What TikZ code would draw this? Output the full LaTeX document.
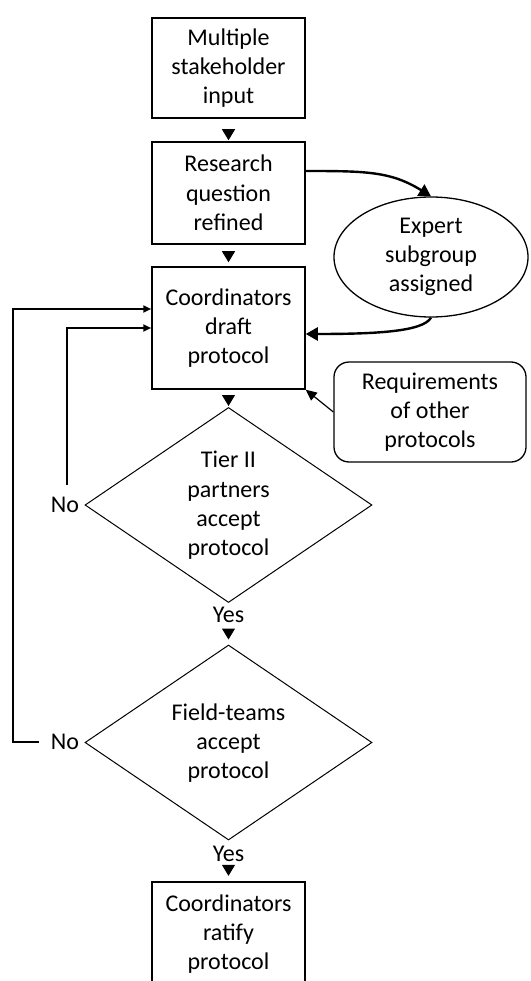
\documentclass[tikz,border=0pt]{standalone}
\usepackage{fontspec}
\setmainfont{Carlito}
\usetikzlibrary{shapes.geometric,arrows.meta}
\begin{document}
\begin{tikzpicture}[x=1pt,y=-1pt,
  every node/.style={font=\fontsize{24}{29.3}\selectfont, align=center, inner sep=0pt},
  boxthick/.style={draw, line width=2.3pt, minimum width=153pt},
  boxthin/.style={draw, line width=1.5pt, minimum width=153pt},
  dia/.style={draw, diamond, line width=1pt, minimum width=287pt, minimum height=195pt},
  vtip/.style={-{Triangle[width=13pt,length=11pt]}, line width=1pt},
  curv/.style={-{Triangle[width=13pt,length=12pt]}, line width=2.4pt},
  thinarr/.style={-{Triangle[width=10pt,length=11pt]}, line width=1.2pt},
  loopa/.style={-{Triangle[width=7pt,length=8pt]}, line width=2pt}
]
\useasboundingbox (0,0) rectangle (530,981);
\clip (0,0) rectangle (530,981);

\node[boxthick, minimum height=100pt] (b1) at (228.5,68) {Multiple\\stakeholder\\input};
\node[boxthin, minimum height=102pt] (b2) at (228.5,193) {Research\\question\\refined};
\node[boxthin, minimum height=122pt] (b3) at (228.5,328) {Coordinators\\draft\\protocol};
\node[dia] (d1) at (228.5,505) {};
\node (t1) at (228.5,505.5) {Tier II\\partners\\accept\\protocol};
\node[dia] (d2) at (228.5,742.5) {};
\node (t2) at (228.5,743) {Field-teams\\accept\\protocol};
\node[boxthick, minimum height=104pt] (b4) at (228.5,934) {Coordinators\\ratify\\protocol};
\node[draw, ellipse, line width=1.3pt, minimum width=194pt, minimum height=120pt] (ell) at (431,257) {Expert\\subgroup\\assigned};
\node[draw, rounded corners=15pt, line width=1.3pt, minimum width=192pt, minimum height=100pt] (req) at (430,412) {Requirements\\of other\\protocols};
\node (no1) at (65,504.5) {No};
\node (no2) at (65,742) {No};
\node[anchor=base] (yes1) at (228.5,622) {Yes};
\node[anchor=base] (yes2) at (228.5,861) {Yes};
\coordinate (c2) at (13,742);

\draw[vtip, shorten <=12pt, shorten >=1pt] (b1.south) -- (b2.north);
\draw[vtip, shorten <=8pt, shorten >=4pt] (b2.south) -- (b3.north);
\draw[vtip, shorten <=6pt, shorten >=1pt] (b3.south) -- (d1.north);
\draw[vtip, shorten <=26.5pt, shorten >=5pt] (d1.south) -- (d2.north);
\draw[vtip, shorten <=26pt, shorten >=5pt] (d2.south) -- (b4.north);

\draw[curv] ([yshift=22pt]b2.east) .. controls +(60,0) and +(-40,-25) .. (ell.north);
\draw[curv] (ell.south) .. controls +(-8,14) and +(70,0) .. ([yshift=-6pt]b3.east);
\draw[thinarr] (req.west) -- (b3.south east);

\draw[loopa, shorten <=12pt] ([xshift=2pt]no1.north) |- (b3.west);
\draw[loopa, shorten <=12pt] (no2.west) -- (c2) |- ([yshift=19pt]b3.west);
\end{tikzpicture}
\end{document}
